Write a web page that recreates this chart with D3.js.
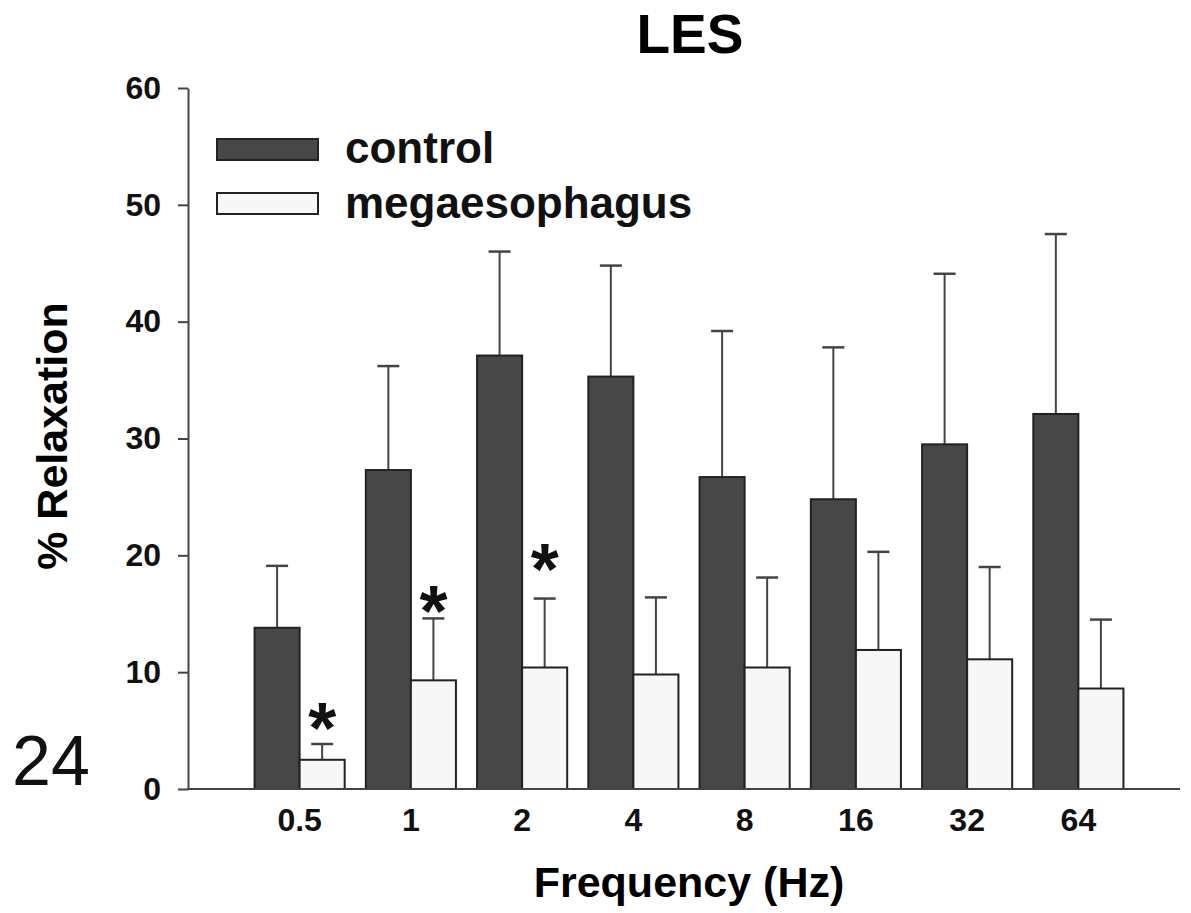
<!DOCTYPE html>
<meta charset="utf-8">
<head>
    <title>LES - % Relaxation</title>
    <meta charset="utf-8">
    <script type="text/javascript" src="https://cdn.jsdelivr.net/npm/d3@7"></script>
    <style>
        body { margin: 0; background: #fff; }
        svg text { font-family: "Liberation Sans", Arial, Helvetica, sans-serif; }
        .tick text { font-weight: bold; font-size: 32px; fill: #111; }
        .axis path, .axis line { stroke: #444; stroke-width: 2px; }
    </style>
</head>
<body>
<div id="chart"></div>
<script>
    // data (mean and SEM, % relaxation)
    var frequencies = ["0.5", "1", "2", "4", "8", "16", "32", "64"];
    var seriesNames = ["control", "megaesophagus"];
    var controlMean = [13.8, 27.3, 37.1, 35.3, 26.7, 24.8, 29.5, 32.1];
    var controlSem  = [5.3, 8.9, 8.9, 9.5, 12.5, 13.0, 14.6, 15.4];
    var megaMean    = [2.5, 9.3, 10.4, 9.8, 10.4, 11.9, 11.1, 8.6];
    var megaSem     = [1.35, 5.3, 5.9, 6.6, 7.7, 8.4, 7.9, 5.9];
    // significance stars, placed over megaesophagus bars
    var starFreqs  = ["0.5", "1", "2"];
    var starLevels = [6.2, 16.2, 19.8];
    var yTicks = [0, 10, 20, 30, 40, 50, 60];

    var w = 1191, h = 913;

    var svg = d3.select("#chart")
        .append("svg")
        .attr("width", w)
        .attr("height", h);

    var y = d3.scaleLinear()
        .domain([0, 60])
        .range([789, 88]);

    var x = d3.scaleBand()
        .domain(frequencies)
        .range([244, 1134])
        .paddingInner(0.19)
        .paddingOuter(0.095);

    var xSub = d3.scaleBand()
        .domain(seriesNames)
        .range([0, x.bandwidth()]);

    var fills = { "control": "#474747", "megaesophagus": "#f7f7f7" };

    // build table for bars
    var rows = [];
    frequencies.forEach(function(f, i) {
        rows.push({ freq: f, series: "control", mean: controlMean[i], sem: controlSem[i] });
        rows.push({ freq: f, series: "megaesophagus", mean: megaMean[i], sem: megaSem[i] });
    });

    // error bars first so bars sit over the bottom of the line
    var capHalf = 11;
    var err = svg.append("g").attr("class", "errors");
    err.selectAll("line.stem")
        .data(rows)
        .enter()
        .append("line")
        .attr("x1", d => x(d.freq) + xSub(d.series) + xSub.bandwidth() / 2)
        .attr("x2", d => x(d.freq) + xSub(d.series) + xSub.bandwidth() / 2)
        .attr("y1", d => y(d.mean))
        .attr("y2", d => y(d.mean + d.sem))
        .attr("stroke", "#444")
        .attr("stroke-width", 2);
    err.selectAll("line.cap")
        .data(rows)
        .enter()
        .append("line")
        .attr("x1", d => x(d.freq) + xSub(d.series) + xSub.bandwidth() / 2 - capHalf)
        .attr("x2", d => x(d.freq) + xSub(d.series) + xSub.bandwidth() / 2 + capHalf)
        .attr("y1", d => y(d.mean + d.sem))
        .attr("y2", d => y(d.mean + d.sem))
        .attr("stroke", "#444")
        .attr("stroke-width", 2.5);

    svg.append("g")
        .selectAll("rect")
        .data(rows)
        .enter()
        .append("rect")
        .attr("x", d => x(d.freq) + xSub(d.series))
        .attr("y", d => y(d.mean))
        .attr("width", xSub.bandwidth())
        .attr("height", d => y(0) - y(d.mean))
        .attr("fill", d => fills[d.series])
        .attr("stroke", "#222")
        .attr("stroke-width", 2);

    // stars
    svg.append("g")
        .selectAll("text")
        .data(starFreqs)
        .enter()
        .append("text")
        .attr("x", (d, i) => x(d) + xSub("megaesophagus") + xSub.bandwidth() / 2)
        .attr("y", (d, i) => y(starLevels[i]) + 36)
        .attr("text-anchor", "middle")
        .style("font-size", "72px")
        .style("font-weight", "bold")
        .attr("fill", "#111")
        .text("*");

    // y axis
    svg.append("g")
        .attr("class", "axis")
        .attr("transform", "translate(188,0)")
        .call(d3.axisLeft(y).tickValues(yTicks).tickSize(10).tickSizeOuter(0).tickPadding(17));

    // x axis: baseline drawn separately, labels only from axisBottom
    svg.append("line")
        .attr("x1", 187)
        .attr("x2", 1180)
        .attr("y1", y(0))
        .attr("y2", y(0))
        .attr("stroke", "#444")
        .attr("stroke-width", 2);

    var xAxis = svg.append("g")
        .attr("class", "axis")
        .attr("transform", "translate(0," + y(0) + ")")
        .call(d3.axisBottom(x).tickSize(0).tickPadding(19));
    xAxis.select(".domain").remove();

    // legend
    var legend = svg.append("g").attr("class", "legend");
    seriesNames.forEach(function(s, i) {
        legend.append("rect")
            .attr("x", 217)
            .attr("y", 139 + i * 54)
            .attr("width", 101)
            .attr("height", 21)
            .attr("fill", fills[s])
            .attr("stroke", "#222")
            .attr("stroke-width", 2);
        legend.append("text")
            .attr("x", 345)
            .attr("y", 163 + i * 55)
            .style("font-size", "44px")
            .style("font-weight", "bold")
            .attr("fill", "#111")
            .text(s);
    });

    // titles
    svg.append("text")
        .attr("x", 690)
        .attr("y", 53)
        .attr("text-anchor", "middle")
        .style("font-size", "55px")
        .style("font-weight", "bold")
        .text("LES");

    svg.append("text")
        .attr("x", 689)
        .attr("y", 897)
        .attr("text-anchor", "middle")
        .style("font-size", "43px")
        .style("font-weight", "bold")
        .text("Frequency (Hz)");

    svg.append("text")
        .attr("transform", "translate(67,436) rotate(-90)")
        .attr("text-anchor", "middle")
        .style("font-size", "43px")
        .style("font-weight", "bold")
        .text("% Relaxation");

    // panel number
    svg.append("text")
        .attr("x", 12)
        .attr("y", 785)
        .style("font-size", "70px")
        .attr("fill", "#111")
        .text("24");
</script>
</body>
</html>
